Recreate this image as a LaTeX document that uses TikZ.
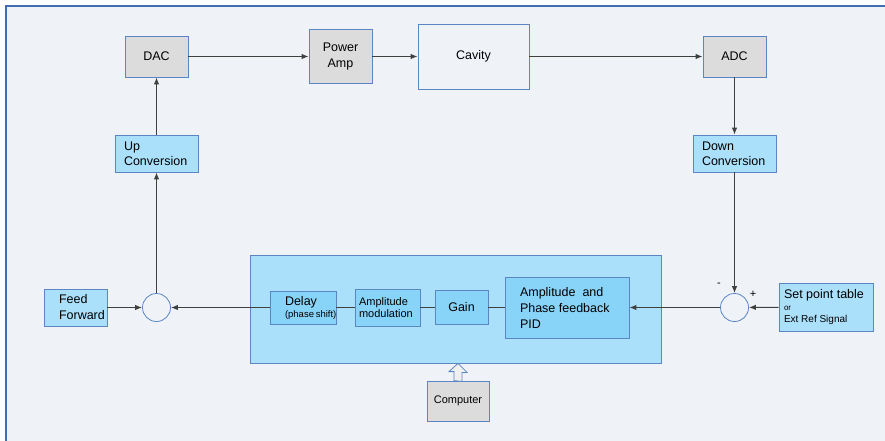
\documentclass[tikz,border=0pt]{standalone}
\usepackage{fontspec}
\setmainfont{Liberation Sans}
\usetikzlibrary{arrows.meta}
\definecolor{framebg}{HTML}{EFF3F8}
\definecolor{framebd}{HTML}{3F6FB2}
\definecolor{boxbd}{HTML}{5B85C3}
\definecolor{greybox}{HTML}{DCDCDC}
\definecolor{lightbox}{HTML}{AAE0FA}
\definecolor{midbox}{HTML}{88D4F8}
\definecolor{wire}{HTML}{404040}
\begin{document}
\begin{tikzpicture}[x=1pt,y=-1pt,
    blk/.style={draw=boxbd,line width=0.8pt,inner ysep=0pt,font=\fontsize{12.5}{16}\selectfont},
    greyblk/.style={blk,fill=greybox,align=center,inner xsep=2pt},
    cyanblk/.style={blk,fill=lightbox,align=flush left},
    innerblk/.style={blk,fill=midbox,align=flush left},
    summer/.style={circle,draw=boxbd,line width=0.8pt,fill=framebg,minimum size=28pt,inner sep=0pt},
    sig/.style={draw=wire,line width=1pt,-{Latex[length=7pt,width=5.5pt]}},
    plain/.style={draw=wire,line width=1pt}]
    \useasboundingbox (0,0) rectangle (885,441);
    \fill[white] (0,0) rectangle (885,441);
    \fill[framebg] (6,6) rectangle (885,441);
    \draw[framebd,line width=2pt] (6,441) -- (6,6) -- (885,6);

    \node[greyblk,minimum width=63pt,minimum height=41pt] (dac) at (156.5,56.5) {DAC};
    \node[greyblk,minimum width=63pt,minimum height=54pt] (pamp) at (340.5,56.5) {Power\\Amp};
    \node[blk,fill=framebg,minimum width=111pt,minimum height=65pt] (cav) at (473.5,56.5) {Cavity};
    \node[greyblk,minimum width=63pt,minimum height=41pt] (adc) at (734.5,56.5) {ADC};
    \node[cyanblk,text width=65pt,inner xsep=9pt,minimum height=37pt] (up) at (156.5,153.5) {Up\\[-1pt]Conversion};
    \node[cyanblk,text width=65pt,inner xsep=9pt,minimum height=37pt] (down) at (734.5,153.5) {Down\\[-1pt]Conversion};
    \node[cyanblk,text width=33pt,inner xsep=15pt,minimum height=37pt] (ff) at (75.5,307.5) {Feed\\Forward};
    \node[summer] (suml) at (156.5,307.5) {};

    \node[blk,fill=lightbox,minimum width=411pt,minimum height=108pt] (ctrl) at (455.5,309) {};
    \node[innerblk,text width=36pt,inner xsep=15pt,minimum height=33pt] (delay) at (303,307.5) {Delay\\[-4pt]{\fontsize{9.5}{11}\selectfont(phase~shift)}};
    \node[innerblk,text width=57pt,inner xsep=4pt,minimum height=37pt,font=\fontsize{11}{12.5}\selectfont] (amod) at (387.5,307.5) {Amplitude\\modulation};
    \node[innerblk,align=center,minimum width=53pt,minimum height=34pt] (gain) at (461.5,307.5) {Gain};
    \node[innerblk,text width=94pt,inner xsep=15pt,minimum height=61pt] (pid) at (567,307.5) {Amplitude\ \ and\\Phase feedback\\PID};

    \node[summer] (sumr) at (734.5,307.5) {};
    \node[font=\fontsize{11}{12}\selectfont,inner sep=0pt] (minus) at (719,285) {-};
    \node[font=\fontsize{11}{12}\selectfont,inner sep=0pt] (plus) at (753,294) {+};
    \node[cyanblk,text width=84pt,inner xsep=5pt,minimum height=48pt] (setp) at (826,307) {Set point table\\[-4pt]{\fontsize{8}{9}\selectfont or}\\[-4pt]{\fontsize{10}{11}\selectfont Ext Ref Signal}};
    \node[greyblk,minimum width=62pt,minimum height=40pt,font=\fontsize{11}{13}\selectfont] (comp) at (458,401) {Computer};

    \draw[sig] (dac) -- (pamp);
    \draw[sig] (pamp) -- (cav);
    \draw[sig] (cav) -- (adc);
    \draw[sig] (adc) -- (down);
    \draw[sig] (down) -- (sumr);
    \draw[sig] (setp) -- (sumr);
    \draw[sig] (sumr) -- (pid);
    \draw[plain] (pid) -- (gain);
    \draw[plain] (gain) -- (amod);
    \draw[plain] (amod) -- (delay);
    \draw[sig] (delay) -- (suml);
    \draw[sig] (ff) -- (suml);
    \draw[sig] (suml) -- (up);
    \draw[sig] (up) -- (dac);
    \draw[boxbd,line width=0.8pt,fill=gray!12] (comp.north) ++(-4,0) -- ++(0,-9) -- ++(-5,0) -- (comp.north |- ctrl.south) -- ++(9,9) -- ++(-5,0) -- ++(0,9) -- cycle;
\end{tikzpicture}
\end{document}
